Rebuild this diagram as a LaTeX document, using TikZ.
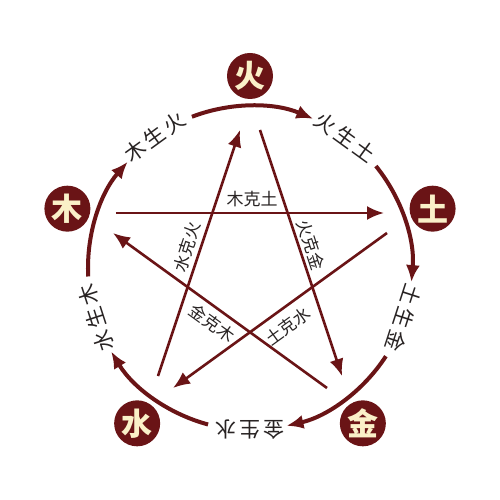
\documentclass[tikz,border=0pt]{standalone}
\usepackage{fontspec}
\setmainfont{Noto Sans CJK SC}
\usetikzlibrary{arrows.meta}
\definecolor{wxred}{RGB}{106,20,22}
\definecolor{wxcream}{RGB}{250,240,200}
\definecolor{wxtext}{RGB}{40,35,35}
\newcommand{\wxgap}{\hspace{3pt}}
\tikzset{
  elem/.style={circle, fill=wxred, text=wxcream, minimum size=46pt, inner sep=0pt, font=\fontsize{31}{31}\selectfont\bfseries},
  sheng/.style={line width=4pt, draw=wxred, -{Latex[length=17pt,width=14pt]}},
  ke/.style={line width=2.6pt, draw=wxred, -{Latex[length=17pt,width=14pt]}},
  shenglabel/.style={text=wxtext, font=\fontsize{21}{21}\selectfont, inner sep=1pt},
  kelabel/.style={text=wxtext, font=\fontsize{17}{17}\selectfont, inner sep=1pt}
}
\begin{document}
\begin{tikzpicture}[x=1pt,y=1pt]
    \useasboundingbox[fill=white] (-250,-232) rectangle (250,268);
    % elements and the sheng cycle
    \foreach \a/\n/\t/\l in {90/huo/火/火\wxgap 生\wxgap 土, 18/tu/土/土\wxgap 生\wxgap 金, -54/jin/金/金\wxgap 生\wxgap 水, -126/shui/水/水\wxgap 生\wxgap 木, 162/mu/木/木\wxgap 生\wxgap 火} {
        \node[elem] (\n) at (\a:192) {\t};
        \draw[sheng] (\a+21:162) arc[start angle=\a+21, end angle=\a-23, radius=162];
        \node[shenglabel, rotate=\a-126] (\n-sheng) at (\a-36:162) {\l};
    }
    
    % the ke star
    \coordinate (muA) at (-134,55);  \coordinate (tuA) at (134,55);
    \coordinate (tuB) at (137,35);   \coordinate (shuiA) at (-77,-120);
    \coordinate (shuiB) at (-92,-108); \coordinate (huoA) at (-10,138);
    \coordinate (huoB) at (10,138);  \coordinate (jinA) at (92,-108);
    \coordinate (jinB) at (77,-120); \coordinate (muB) at (-137,35);
    \draw[ke] (muA) -- (tuA);
    \draw[ke] (tuB) -- (shuiA);
    \draw[ke] (shuiB) -- (huoA);
    \draw[ke] (huoB) -- (jinA);
    \draw[ke] (jinB) -- (muB);
    \node[kelabel] (muke) at (2,69) {木克土};
    \node[kelabel, rotate=72] (shuike) at (-63,21) {水克火};
    \node[kelabel, rotate=-72] (huoke) at (61,23) {火克金};
    \node[kelabel, rotate=-36] (jinke) at (-38,-55) {金克木};
    \node[kelabel, rotate=36] (tuke) at (38,-58) {土克水};
\end{tikzpicture}
\end{document}
